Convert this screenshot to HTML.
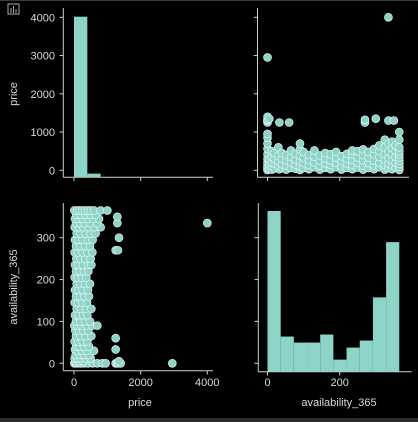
<!DOCTYPE html>
<html><head><meta charset="utf-8"><style>
html,body{margin:0;padding:0;background:#000;width:418px;height:422px;overflow:hidden}
svg{display:block}
text{font-family:"Liberation Sans","DejaVu Sans",sans-serif;fill:#d9d9d9;font-size:11px}
</style></head><body>
<svg id="c" width="418" height="422">
<rect x="0" y="0" width="418" height="1" fill="#3a3a3a"/>
<rect x="0" y="418" width="418" height="4" fill="#2b2b2b"/>
<g transform="translate(8,4)" fill="none" stroke="#aaa" stroke-width="1">
<rect x="0" y="0" width="11" height="10"/><line x1="3" y1="9" x2="3" y2="4"/><line x1="5.5" y1="9" x2="5.5" y2="2"/><line x1="8" y1="9" x2="8" y2="5"/>
</g>
</svg>
<script>
const priceTicks=[0,1000,2000,3000,4000];
const priceXTicks=[0,2000,4000];
const availTicks=[0,100,200,300];
const availXTicks=[0,200];
const priceHist=[3500,80,0,0,0,0,0,0,0,0];
const availHist=[800,175,145,145,185,60,120,155,370,645];
const prices=[10,60,120,200,300,420,560,700,850,950,1250,1300,1320,1400,2950,
40,150,280,1350, 20,100,200,350,500, 50,180,300,450, 30,110,240,380,600,1250,
70,160,300,450, 20,130,260,400, 60,200,350,520,1250, 40,150,280,430,
10,100,230,380,550,700, 60,190,330,480, 30,140,270,400, 80,210,360,520,
20,120,250,390, 60,180,310,450, 30,140,260,420, 80,200,330,480, 20,110,240,370,
60,180,300,430, 30,140,270,420,520, 70,200,340,500, 20,120,260,400,550,1250,1320,
60,190,330,480, 30,130,260,420,560,1350, 80,200,350,500,650, 20,140,280,430,600,800,
60,180,320,480,700,1300,4000, 30,130,260,420,580,750,1300, 70,200,350,500,650,
10,90,170,250,330,420,500,600,800,1000];
const avail=[0,0,0,0,0,0,0,0,0,0,0,0,0,0,0,
5,5,5,5, 12,12,12,12,12, 20,20,20,20, 33,30,30,30,30,33,
40,40,40,40, 52,52,52,52, 65,65,65,65,60, 78,78,78,78,
90,90,90,90,90,90, 100,100,100,100, 115,115,115,115, 130,130,130,130,
145,145,145,145, 160,160,160,160, 175,175,175,175, 190,190,190,190, 205,205,205,205,
220,220,220,220, 235,235,235,235,235, 250,250,250,250, 265,265,265,265,265,270,270,
280,280,280,280, 295,295,295,295,295,300, 310,310,310,310,310, 325,325,325,325,325,325,
335,335,335,335,335,335,335, 345,345,345,345,345,345,350, 355,355,355,355,355,
365,365,365,365,365,365,365,365,365,365];

const svg=document.getElementById('c');const NS='http://www.w3.org/2000/svg';
function mk(t,a,parent){const e=document.createElementNS(NS,t);for(const k in a)e.setAttribute(k,a[k]);(parent||svg).appendChild(e);return e;}
const pxTop=v=>74+v*(207.3-74)/4000;
const pyRow=v=>170.3-v*(170.3-17.3)/4000;
const axX=v=>267.5+v*(339.7-267.5)/200;
const ayRow=v=>363.3-v*(363.3-237.7)/300;
const col='#8dd3c7';
function axes(x0,y0,x1,yTop){
  const g=mk('g',{});
  
  
  mk('line',{x1:x0,y1:yTop,x2:x0,y2:y0,stroke:'#cfcfcf','stroke-width':1},g);
  mk('line',{x1:x0,y1:y0,x2:x1,y2:y0,stroke:'#cfcfcf','stroke-width':1},g);
}
axes(63.3,177.3,213,8);
priceHist.forEach((c,i)=>{const h=c*(177.3-16.7)/3500;const x=pxTop(i*400);
  const r=mk('rect',{x:x,y:177.3-h,width:pxTop(400)-pxTop(0),height:h,fill:col});
  
  });
axes(257.5,177.3,409,8);
axes(63.3,370.7,213,203);
axes(258.3,371.7,411.7,203);
const bw=axX(36.5)-axX(0);
availHist.forEach((c,i)=>{const h=c*(371.7-211)/800;const x=axX(i*36.5);
  const r=mk('rect',{x:x,y:371.7-h,width:bw,height:h,fill:col});
  
  });
for(let i=0;i<prices.length;i++){
  const a=mk('circle',{cx:axX(avail[i]),cy:pyRow(prices[i]),r:4,fill:col,stroke:'#eefaf7','stroke-width':0.6});
  
  
  const b=mk('circle',{cx:pxTop(prices[i]),cy:ayRow(avail[i]),r:4,fill:col,stroke:'#eefaf7','stroke-width':0.6});
  
  
}
function tick(x1,y1,x2,y2){mk('line',{x1,y1,x2,y2,stroke:'#cfcfcf','stroke-width':1});}
function lbl(x,y,s,anchor,name){const t=mk('text',{x,y,'text-anchor':anchor});t.textContent=s;
  
  return t;}
priceTicks.forEach(v=>{const y=pyRow(v);tick(59.5,y,63.3,y);tick(253.7,y,257.5,y);lbl(55,y+4,String(v),'end','price-tick-label');});
availTicks.forEach(v=>{const y=ayRow(v);tick(59.5,y,63.3,y);tick(254.5,y,258.3,y);lbl(55,y+4,String(v),'end','availability-tick-label');});
priceXTicks.forEach(v=>{const x=pxTop(v);tick(x,177.3,x,181);tick(x,370.7,x,374.5);lbl(x,386,String(v),'middle','price-x-tick-label');});
availXTicks.forEach(v=>{const x=axX(v);tick(x,177.3,x,181);tick(x,371.7,x,375.5);lbl(x,386,String(v),'middle','availability-x-tick-label');});
lbl(140,406,'price','middle','x-axis-title-price');
lbl(339,406,'availability_365','middle','x-axis-title-availability');
const t1=lbl(0,0,'price','middle','y-axis-title-price');t1.setAttribute('transform','translate(17,94) rotate(-90)');
const t2=lbl(0,0,'availability_365','middle','y-axis-title-availability');t2.setAttribute('transform','translate(17,287) rotate(-90)');
</script>
</body></html>
